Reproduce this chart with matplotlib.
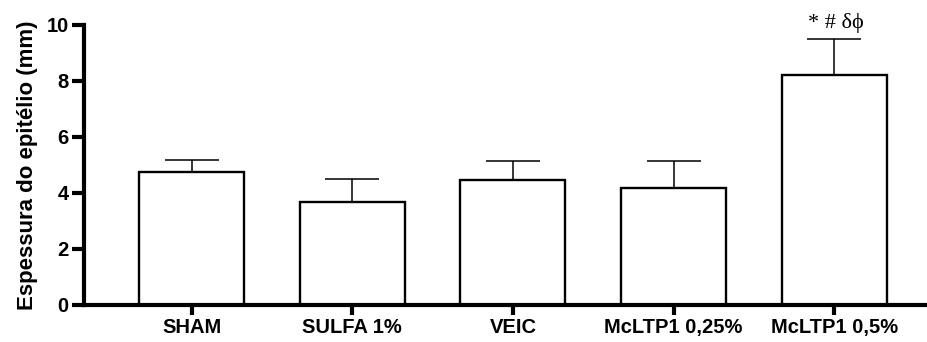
import numpy as np
import matplotlib.pyplot as plt

# dados
grupos = ['SHAM', 'SULFA 1%', 'VEIC', 'McLTP1 0,25%', 'McLTP1 0,5%']
media = [4.74, 3.69, 4.48, 4.17, 8.21]
erro = [0.44, 0.80, 0.67, 0.98, 1.29]
sig = ['', '', '', '', '* # δϕ']

fig = plt.figure(figsize=(9.28, 3.42), dpi=100)
ax = fig.add_axes([84 / 928, 37 / 342, 842 / 928, 280 / 342])

x = np.arange(len(grupos))
ax.bar(x, media, width=0.653, color='white', edgecolor='black', linewidth=1.7, zorder=2)
ax.errorbar(x, media, yerr=[np.zeros(len(erro)), erro], fmt='none', ecolor='black',
            elinewidth=1.1, capsize=19.5, capthick=1.1, zorder=1)

for xi, m, e, s in zip(x, media, erro, sig):
    if s:
        ax.text(xi + 0.01, m + e + 0.22, s, ha='center', va='bottom', fontsize=16,
                family=['Liberation Serif', 'DejaVu Serif'])

ax.set_xlim(-0.669, 4.57)
ax.set_ylim(0, 10)
ax.set_yticks([0, 2, 4, 6, 8, 10])
ax.set_xticks(x)
ax.set_xticklabels(grupos)

for sp in ['top', 'right']:
    ax.spines[sp].set_visible(False)
for sp in ['left', 'bottom']:
    ax.spines[sp].set_linewidth(3)

ax.tick_params(axis='y', width=3, length=8.5, labelsize=14.5, pad=2.5)
ax.tick_params(axis='x', width=3, length=7.5, labelsize=14.5, pad=2)
for lab in ax.get_xticklabels() + ax.get_yticklabels():
    lab.set_fontfamily('Liberation Sans')
    lab.set_fontweight('bold')

ax.set_ylabel('Espessura do epitélio (mm)', fontsize=16, fontweight='bold',
              family='Liberation Sans', labelpad=6)

fig.savefig('out.png', dpi=100)
